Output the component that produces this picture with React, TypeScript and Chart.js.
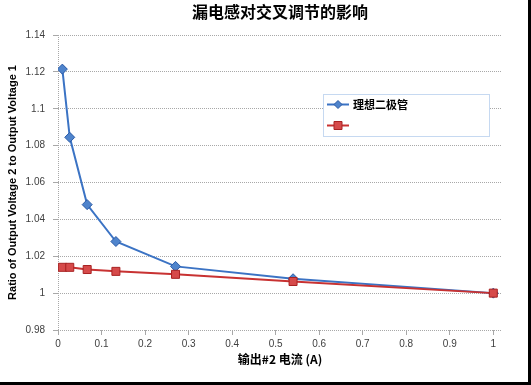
import React, { useEffect, useRef } from "react";
import { Chart, registerables } from "chart.js";

Chart.register(...registerables);

const chartTitle = "漏电感对交叉调节的影响";
const xTitle = "输出#2 电流 (A)";
const yTitle = "Ratio of Output Voltage 2 to Output Voltage 1";

const currents = [0.01, 0.027, 0.067, 0.133, 0.27, 0.54, 1.0];
const idealDiode = [1.1215, 1.0845, 1.048, 1.028, 1.0145, 1.0078, 1.0];
const secondSeries = [1.014, 1.014, 1.0128, 1.0118, 1.0102, 1.0063, 1.0];
const seriesLabels = ["理想二极管", ""];
const xTickValues = [0, 0.1, 0.2, 0.3, 0.4, 0.5, 0.6, 0.7, 0.8, 0.9, 1];

const blueLine = "#3b73c4";
const blueFill = "#4f84cc";
const blueBorder = "#2a5aa6";
const redLine = "#c83232";
const redFill = "#d64a4a";
const redBorder = "#a82222";

const legendPlugin = {
  id: "customLegend",
  afterDraw(chart: any) {
    const ctx = chart.ctx;
    const bx = 323.5, by = 94.5, bw = 166, bh = 42;
    ctx.save();
    ctx.fillStyle = "#ffffff";
    ctx.fillRect(bx, by, bw, bh);
    ctx.strokeStyle = "#8db3e2";
    ctx.lineWidth = 1;
    ctx.setLineDash([1, 1]);
    ctx.strokeRect(bx, by, bw, bh);
    ctx.setLineDash([]);
    const rows = [104.5, 125.5];
    chart.data.datasets.forEach((ds: any, i: number) => {
      const y = rows[i];
      ctx.strokeStyle = ds.borderColor;
      ctx.lineWidth = 2;
      ctx.beginPath();
      ctx.moveTo(327, y);
      ctx.lineTo(349, y);
      ctx.stroke();
      ctx.fillStyle = ds.pointBackgroundColor;
      ctx.strokeStyle = ds.pointBorderColor;
      ctx.lineWidth = 1;
      ctx.beginPath();
      if (ds.pointStyle === "rectRot") {
        const r = 4;
        ctx.moveTo(338, y - r);
        ctx.lineTo(338 + r, y);
        ctx.lineTo(338, y + r);
        ctx.lineTo(338 - r, y);
        ctx.closePath();
      } else {
        ctx.rect(334, y - 4, 8, 8);
      }
      ctx.fill();
      ctx.stroke();
      if (ds.label) {
        ctx.fillStyle = "#000000";
        ctx.font = "bold 11px 'Noto Sans CJK SC'";
        ctx.textBaseline = "middle";
        ctx.textAlign = "left";
        ctx.fillText(ds.label, 353, y);
      }
    });
    ctx.restore();
  },
};

export default function App() {
  const ref = useRef<HTMLCanvasElement | null>(null);

  useEffect(() => {
    if (!ref.current) return;
    const tickFont = { family: "'Liberation Sans', Arial, sans-serif", size: 10 };
    const chart = new Chart(ref.current, {
      type: "scatter",
      data: {
        datasets: [
          {
            label: seriesLabels[0],
            data: currents.map((x, i) => ({ x, y: idealDiode[i] })),
            showLine: true,
            borderColor: blueLine,
            borderWidth: 2,
            pointStyle: "rectRot",
            pointRadius: 5,
            pointBackgroundColor: blueFill,
            pointBorderColor: blueBorder,
            pointBorderWidth: 1,
            order: 2,
          },
          {
            label: seriesLabels[1],
            data: currents.map((x, i) => ({ x, y: secondSeries[i] })),
            showLine: true,
            borderColor: redLine,
            borderWidth: 2,
            pointStyle: "rect",
            pointRadius: 5.66,
            pointBackgroundColor: redFill,
            pointBorderColor: redBorder,
            pointBorderWidth: 1,
            order: 1,
          },
        ],
      },
      options: {
        responsive: false,
        animation: false,
        layout: { padding: { left: 0, right: 26, top: 0, bottom: 0 } },
        plugins: {
          legend: { display: false },
          tooltip: { enabled: false },
          title: {
            display: true,
            text: chartTitle,
            fullSize: false,
            color: "#000000",
            font: { family: "'Noto Sans CJK SC'", size: 16, weight: "bold" },
            padding: { top: 2.4, bottom: 13.4 },
          },
        },
        scales: {
          x: {
            type: "linear",
            min: 0,
            max: 1.02,
            afterBuildTicks: (axis: any) => {
              axis.ticks = xTickValues.map((v) => ({ value: v }));
            },
            afterFit: (axis: any) => {
              axis.height = 52;
            },
            ticks: {
              color: "#404040",
              font: tickFont,
              padding: 3,
              maxRotation: 0,
              autoSkip: false,
              callback: (v: any) => String(Math.round(Number(v) * 10) / 10),
            },
            grid: {
              color: (c: any) => (c.tick && c.tick.value === 0 ? "#a8a8a8" : "rgba(0,0,0,0)"),
              tickColor: "#a8a8a8",
              tickLength: 5,
            },
            border: { display: false, dash: [1, 1] },
            title: {
              display: true,
              text: xTitle,
              color: "#000000",
              font: { family: "'Noto Sans CJK SC'", size: 12, weight: "bold" },
              padding: { top: 0, bottom: 15 },
            },
          },
          y: {
            type: "linear",
            min: 0.98,
            max: 1.14,
            afterFit: (axis: any) => {
              axis.width = 58;
            },
            ticks: {
              stepSize: 0.02,
              color: "#404040",
              font: tickFont,
              padding: 8,
              callback: (v: any) => String(Math.round(Number(v) * 100) / 100),
            },
            grid: {
              color: "#a8a8a8",
              tickColor: "#a8a8a8",
              tickLength: 5,
            },
            border: { display: false, dash: [1, 1] },
            title: {
              display: true,
              text: yTitle,
              color: "#000000",
              font: { family: "'Liberation Sans', Arial, sans-serif", size: 11, weight: "bold" },
              padding: { top: 6, bottom: 0 },
            },
          },
        },
      },
      plugins: [legendPlugin],
    });
    return () => chart.destroy();
  }, []);

  return (
    <div
      style={{
        position: "absolute",
        left: 0,
        top: 0,
        width: 531,
        height: 385,
        background: "#000000",
      }}
    >
      <div style={{ width: 528, height: 382, background: "#ffffff" }}>
        <canvas ref={ref} width={528} height={382} style={{ display: "block" }} />
      </div>
    </div>
  );
}
